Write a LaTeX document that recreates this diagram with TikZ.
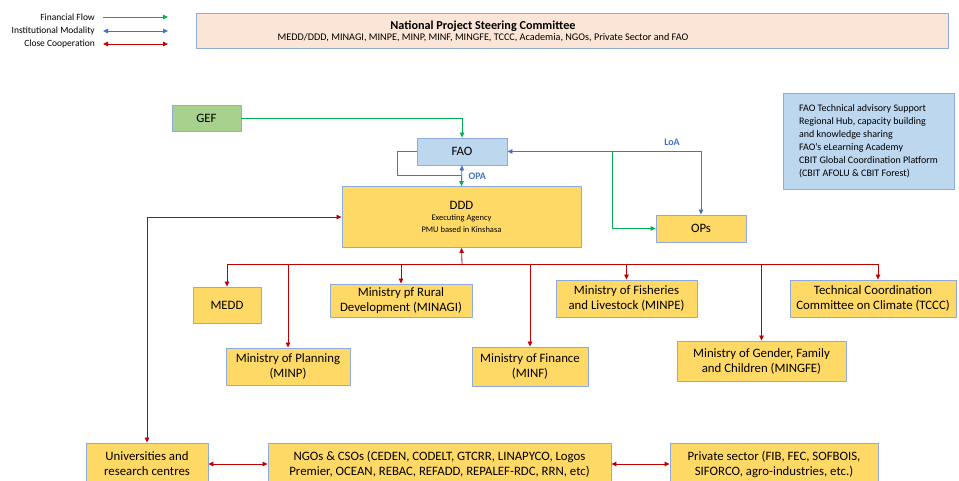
\documentclass[tikz,border=0pt]{standalone}
\usepackage{fontspec}
\setmainfont{Carlito}
\usetikzlibrary{arrows.meta}
\definecolor{bordc}{HTML}{8FAADC}
\definecolor{yellowbox}{HTML}{FFD966}
\definecolor{bluebox}{HTML}{BDD7EE}
\definecolor{greenbox}{HTML}{A9D18E}
\definecolor{peachbox}{HTML}{FBE5D6}
\definecolor{fincol}{HTML}{00B050}
\definecolor{instcol}{HTML}{4472C4}
\definecolor{coopcol}{HTML}{C00000}
\tikzset{
  box/.style={draw=bordc, line width=0.9pt, fill=yellowbox, align=center,
    inner sep=2pt, font=\fontsize{12.8}{15}\selectfont},
  fin/.style={draw=fincol, line width=0.8pt},
  inst/.style={draw=instcol, line width=0.8pt},
  coop/.style={draw=coopcol, line width=0.8pt},
  tag/.style={text=instcol, font=\fontsize{10}{12}\selectfont\bfseries},
  legend/.style={anchor=east, inner sep=0pt, font=\fontsize{9.5}{11}\selectfont}
}
\begin{document}
\begin{tikzpicture}[x=1pt, y=-1pt, line join=round, >={Triangle[length=5pt,width=4.5pt]}]
\useasboundingbox (0,0) rectangle (959,481);
% legend
\node[legend] (lf) at (95,17) {Financial Flow};
\node[legend] (li) at (95,31) {Institutional Modality};
\node[legend] (lc) at (95,44) {Close Cooperation};
\draw[fin,->] ([xshift=8pt]lf.east) -- ++(65,0);
\draw[inst,<->] ([xshift=8pt]li.east) -- ++(65,0);
\draw[coop,<->] ([xshift=8pt]lc.east) -- ++(65,0);
% steering committee
\node[box, fill=peachbox, minimum width=752pt, minimum height=35pt] (nspc) at (572,30.5) {};
\node[align=center, inner sep=0pt] (nspct) at (483,31)
  {{\fontsize{12.2}{15}\selectfont\bfseries National Project Steering Committee}\\[-1pt]
   {\fontsize{10.2}{12}\selectfont MEDD/DDD, MINAGI, MINPE, MINP, MINF, MINGFE, TCCC, Academia, NGOs, Private Sector and FAO}};
% top level
\node[box, fill=greenbox, minimum width=69pt, minimum height=26pt] (gef) at (206.5,118) {GEF};
\node[box, fill=bluebox, minimum width=90pt, minimum height=27pt] (fao) at (462,151.5) {FAO};
\node[box, minimum width=239pt, minimum height=61pt] (ddd) at (461.5,217)
  {DDD\\[-4pt]{\fontsize{8.5}{11}\selectfont Executing Agency}\\[-3pt]{\fontsize{8.5}{11}\selectfont PMU based in Kinshasa}};
\node[box, minimum width=90pt, minimum height=27pt] (ops) at (701,228.5) {OPs};
\node[box, fill=bluebox, minimum width=171pt, minimum height=96pt, align=left,
  font=\fontsize{10}{13}\selectfont] (info) at (868.5,141)
  {FAO Technical advisory Support\\Regional Hub, capacity building\\and knowledge sharing\\FAO's eLearning Academy\\CBIT Global Coordination Platform\\(CBIT AFOLU \& CBIT Forest)};
% ministries
\node[box, minimum width=68pt, minimum height=36pt] (medd) at (227,305) {MEDD};
\node[box, minimum width=142pt, minimum height=33pt] (minagi) at (401,300.5) {Ministry pf Rural\\Development (MINAGI)};
\node[box, minimum width=141pt, minimum height=37pt] (minpe) at (626.5,298.5) {Ministry of Fisheries\\and Livestock (MINPE)};
\node[box, minimum width=166pt, minimum height=37pt] (tccc) at (873,298.5) {Technical Coordination\\Committee on Climate (TCCC)};
\node[box, minimum width=124pt, minimum height=37pt] (minp) at (288,366.5) {Ministry of Planning\\(MINP)};
\node[box, minimum width=116pt, minimum height=39pt] (minf) at (530,366.5) {Ministry of Finance\\(MINF)};
\node[box, minimum width=169pt, minimum height=40pt] (mingfe) at (761.5,361) {Ministry of Gender, Family\\and Children (MINGFE)};
% partners
\node[box, minimum width=122pt, minimum height=42pt] (univ) at (147,464) {Universities and\\research centres};
\node[box, minimum width=343pt, minimum height=42pt] (ngo) at (439.5,464) {NGOs \& CSOs (CEDEN, CODELT, GTCRR, LINAPYCO, Logos\\Premier, OCEAN, REBAC, REFADD, REPALEF-RDC, RRN, etc)};
\node[box, minimum width=208pt, minimum height=42pt] (priv) at (774,464) {Private sector (FIB, FEC, SOFBOIS,\\SIFORCO, agro-industries, etc.)};
% financial flow and modalities
\draw[fin,->] (gef.east) -| (fao.north);
\draw[inst,<->] (fao.east) -| (ops.north);
\draw[fin,->,shorten <=5pt] (fao.east) -- ++(105,0) |- (ops.west);
\draw[inst,->] (ddd.north) -- (fao.south);
\draw[fin,->] (fao.west) -| (397,175) -| (ddd.north);
\node[tag, anchor=west] (opa) at (465,176) {OPA};
\node[tag] (loa) at (672,142) {LoA};
% cooperation
\coordinate (bus) at (462,264);
\draw[coop,<-] (ddd.south) -- (bus);
\draw[coop] (medd.north |- bus) -- ([xshift=5pt]tccc.north |- bus);
\foreach \m in {medd,minagi,minpe,minp,minf,mingfe}
  \draw[coop,->] (\m.north |- bus) -- (\m.north);
\draw[coop,->] ([xshift=5pt]tccc.north |- bus) -- ([xshift=5pt]tccc.north);
\draw[coop,<->] (univ.north) |- (ddd.west);
\draw[coop,<->] (univ) -- (ngo);
\draw[coop,<->] (ngo) -- (priv);
\end{tikzpicture}
\end{document}
